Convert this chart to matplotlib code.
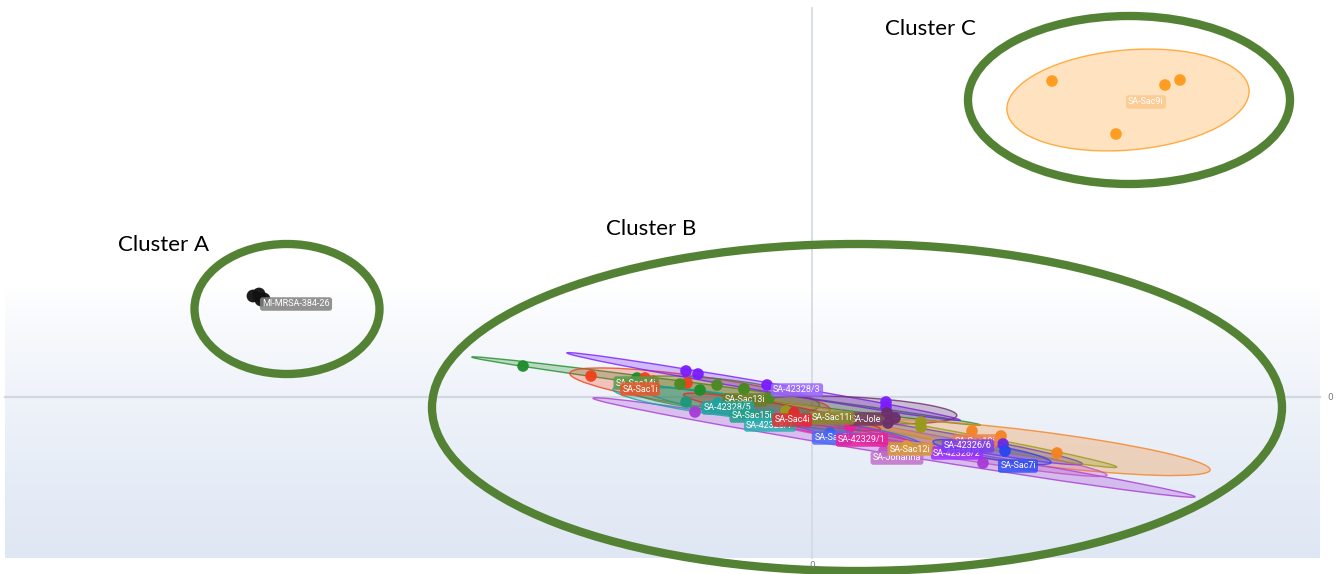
import numpy as np
import matplotlib
matplotlib.use("Agg")
import matplotlib.pyplot as plt
from matplotlib.patches import Ellipse

# ---------------- data (score-plot units) ----------------
group_names = ["SA-Sac14i", "SA-Sac1i", "SA-Sac13i", "SA-42328/3", "SA-Jole",
               "SA-Sac10i", "SA-42328/2", "SA-42326/6", "SA-Johanna", "SA-Sac11i",
               "SA-Sac12i", "SA-42328/5", "SA-Sac15i", "SA-42328/7", "SA-Sac4i",
               "SA-Sac5i", "SA-42329/1", "SA-Sac7i",
               "MI-MRSA-384-26", "SA-Sac9i"]
group_colors = ["#1e8c28", "#f0401a", "#4a8a22", "#7a1cff", "#6b2d6b",
                "#f5821f", "#a83ad6", "#6a28e8", "#c050c8", "#9a9a1a",
                "#e8962e", "#19a3a3", "#1a9a7a", "#26b0b8", "#e02a2a",
                "#3a60f0", "#e8209a", "#2646f2",
                "#111111", "#ff9a1a"]
label_colors = ["#5c9a4a", "#e8552a", "#6b7d23", "#9966ff", "#6e3a5e",
                "#f08050", "#9b30ff", "#7a3cf0", "#c070c8", "#8a8a2a",
                "#d89a3a", "#20a5a0", "#22a08a", "#2bb0b0", "#e03030",
                "#4a6af5", "#e8209a", "#3050f5",
                "#808080", "#fcc88c"]
points_x = [[-28.9, -17.5, -11.2, -6.8],
            [-22.1, -16.7, -15.9, -12.5],
            [-13.2, -9.5, -6.8, -4.3],
            [-12.6, -11.4, -4.5, 7.4, 7.4],
            [7.5, 8.3, 7.6],
            [16.0, 18.9, 24.5],
            [-11.7, 17.1],
            [19.1],
            [7.2],
            [10.9, 10.9, -2.6],
            [9.5],
            [-9.4],
            [-12.6],
            [-4.0],
            [-1.8],
            [1.8],
            [3.8, -0.5],
            [19.3],
            [-55.9, -55.3, -54.8, -55.1],
            [24.0, 35.3, 36.8, 30.4]]
points_y = [[3.1, 1.9, 0.7, 0.8],
            [2.1, 1.9, 1.6, 1.4],
            [1.3, 1.2, 0.8, -0.1],
            [2.6, 2.3, 1.2, -0.5, -1.0],
            [-1.6, -2.1, -2.6],
            [-3.4, -3.9, -5.6],
            [-1.5, -6.6],
            [-4.7],
            [-5.4],
            [-2.5, -3.0, -1.4],
            [-4.9],
            [-0.6],
            [-0.5],
            [-2.2],
            [-1.6],
            [-3.6],
            [-3.0, -2.5],
            [-5.4],
            [10.1, 10.3, 9.8, 9.7],
            [31.6, 31.2, 31.7, 26.3]]
# confidence ellipses: centre x, centre y, width, height, angle (deg)
ell_cx = [-8.6, -11.2, -9.2, -4.85, 4.0, 21.8, 8.2, 12.95, 9.15, 10.65,
          6.0, -10.0, -6.0, -3.0, -3.0, 4.0, 2.0, 18.0, -55.3, 31.6]
ell_cy = [0.6, 0.55, 0.2, 1.05, -1.3, -5.05, -5.05, -4.2, -4.3, -3.4,
          -3.5, -0.6, -1.2, -2.0, -1.5, -3.5, -3.2, -5.5, 10.0, 29.7]
ell_w = [51.3, 26.3, 20.0, 39.9, 21.0, 36.3, 61.0, 28.6, 41.3, 40.3,
         14.0, 20.0, 22.0, 16.0, 20.0, 14.0, 16.0, 12.0, 1.2, 24.3]
ell_h = [0.8, 3.0, 3.2, 0.9, 2.6, 3.4, 1.4, 1.4, 2.0, 1.2,
         1.5, 2.2, 2.0, 1.5, 1.5, 1.4, 1.4, 1.4, 0.8, 10.0]
ell_angle = [-7.6, -8.0, -6.0, -9.7, -3.0, -7.1, -9.3, -10.0, -9.8, -10.3,
             -10.0, -8.0, -10.0, -10.0, -10.0, -10.0, -10.0, -10.0, 0.0, 5.0]
label_x = [-17.6, -17.2, -6.7, -1.5, 5.4, 16.3, 14.5, 15.6, 8.5, 2.0,
           9.8, -8.4, -6.0, -4.2, -2.0, 2.0, 5.0, 20.6, -51.6, 33.4]
label_y = [1.4, 0.8, -0.3, 0.7, -2.2, -4.4, -5.6, -4.9, -6.1, -2.1,
           -5.2, -1.1, -1.9, -2.8, -2.3, -4.1, -4.3, -6.9, 9.3, 29.5]

cluster_names = ["Cluster A", "Cluster B", "Cluster C"]
cluster_cx = [-52.5, 4.5, 31.7]
cluster_cy = [8.8, -1.05, 29.7]
cluster_w = [18.5, 85.0, 32.2]
cluster_h = [13.0, 32.7, 16.8]
cluster_text_x = [-69.4, -20.6, 7.3]
cluster_text_y = [15.2, 16.8, 36.8]

# ---------------- figure ----------------
fig = plt.figure(figsize=(13.4, 5.74), dpi=100)
ax = fig.add_axes([0, 0, 1, 1])
ax.set_xlim(-81.2, 52.8)
ax.set_ylim(-17.7, 39.7)
ax.set_aspect("auto")
ax.axis("off")

# plot-area gradient background
x0, x1, yb, yt = -80.7, 50.8, -16.1, 38.9
yy = np.linspace(yt, yb, 400)
t = np.clip((10.7 - yy) / (10.7 - yb), 0, 1) ** 0.75
top = np.array([1.0, 1.0, 1.0])
bot = np.array([0xdf, 0xe7, 0xf4]) / 255
grad = (1 - t)[:, None] * top + t[:, None] * bot
img = np.repeat(grad[:, None, :], 2, axis=1)
ax.imshow(img, extent=(x0, x1, yb, yt), aspect="auto", zorder=0, interpolation="bilinear")

# axis lines
ax.plot([x0, x1], [0, 0], color="#d3d8e0", lw=1.6, zorder=1)
ax.plot([0, 0], [yb, yt], color="#d3d8e0", lw=1.2, zorder=1)
ax.text(51.8, 0, "0", fontsize=6.5, color="#777777", ha="center", va="center")
ax.text(0, -16.9, "0", fontsize=6.5, color="#777777", ha="center", va="center", zorder=8)

# ellipses
for i in range(len(group_names)):
    c = group_colors[i]
    ax.add_patch(Ellipse((ell_cx[i], ell_cy[i]), ell_w[i], ell_h[i], angle=ell_angle[i],
                         facecolor=matplotlib.colors.to_rgba(c, 0.27),
                         edgecolor=matplotlib.colors.to_rgba(c, 0.8), lw=1.0, zorder=2))
# points
for i in range(len(group_names)):
    ax.scatter(points_x[i], points_y[i], s=85 if i == 18 else 70, color=group_colors[i],
               edgecolors="none", zorder=3, alpha=0.95)
# labels
for i in range(len(group_names)):
    ax.text(label_x[i], label_y[i], group_names[i], fontsize=6.5, family="Roboto",
            color="white", ha="center", va="center", zorder=4,
            bbox=dict(boxstyle="round,pad=0.25,rounding_size=0.3",
                      fc=matplotlib.colors.to_rgba(label_colors[i], 0.85), ec="none"))

# cluster rings and titles
for i in range(3):
    ax.add_patch(Ellipse((cluster_cx[i], cluster_cy[i]), cluster_w[i], cluster_h[i],
                         facecolor="none", edgecolor="#548235", lw=6, zorder=5))
    ax.text(cluster_text_x[i], cluster_text_y[i], cluster_names[i], fontsize=16,
            family="Lato", color="black", ha="left", va="center", zorder=6)

fig.savefig("out.png", dpi=100)
